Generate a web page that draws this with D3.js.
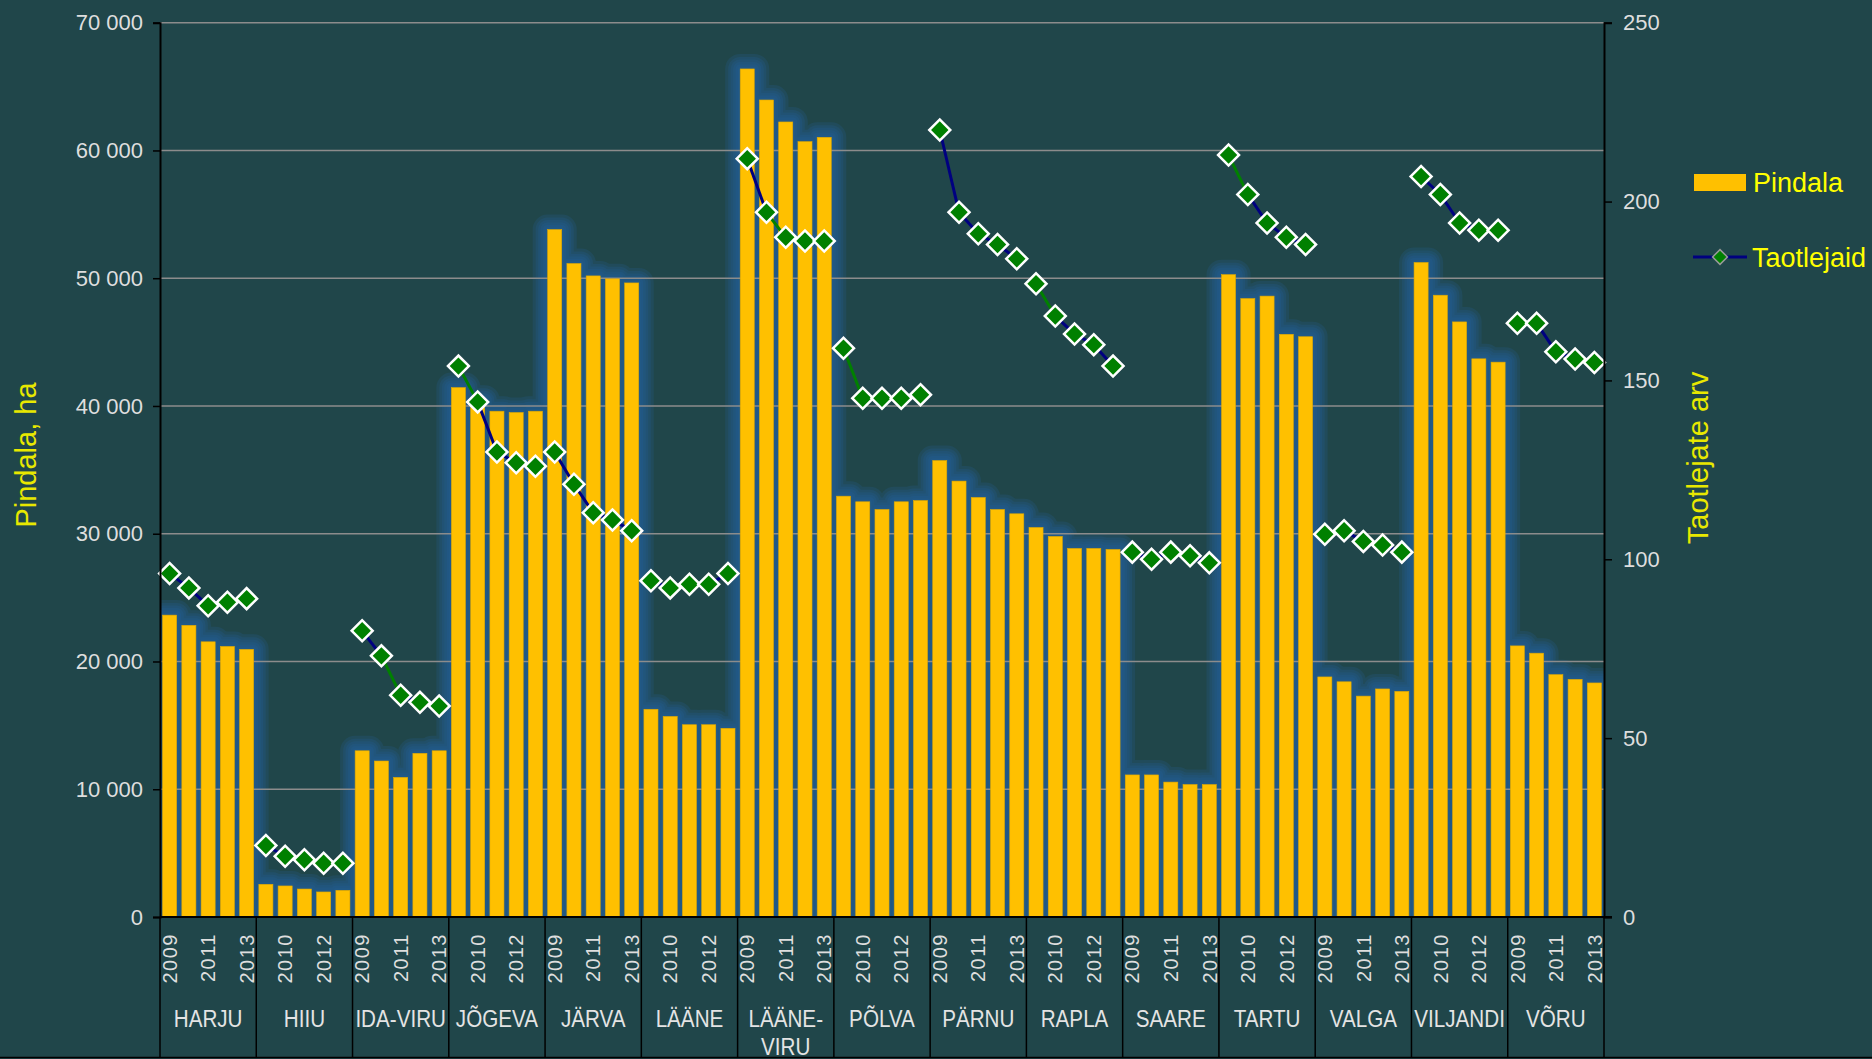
<!DOCTYPE html>
<meta charset="utf-8">
<style>
  body { margin: 0; background: #20464a; }
  svg { font-family: "Liberation Sans", Arial, sans-serif; display: block; }
  .tick-lbl { fill: #dedede; font-size: 22px; }
  .yr { fill: #dedede; font-size: 20px; letter-spacing: 1.5px; }
  .grp { fill: #e4e4e4; font-size: 24px; }
  .ttl { fill: #e8e800; font-size: 29px; }
  .leg { fill: #ffff00; font-size: 27px; }
</style>
<body>
<svg id="chart" width="1872" height="1059"></svg>
<script src="https://d3js.org/d3.v7.min.js"></script>
<script>

// ---------------------------------------------------------------
//                              DATA
// ---------------------------------------------------------------
var counties = ["HARJU", "HIIU", "IDA-VIRU", "JÕGEVA", "JÄRVA", "LÄÄNE",
                "LÄÄNE-VIRU", "PÕLVA", "PÄRNU", "RAPLA", "SAARE", "TARTU",
                "VALGA", "VILJANDI", "VÕRU"];
var years = [2009, 2010, 2011, 2012, 2013];

// Pindala, ha (one row per county, 2009..2013)
var pindala = [
  [23630, 22830, 21540, 21180, 20950],
  [ 2560,  2430,  2190,  1960,  2090],
  [13010, 12210, 10930, 12810, 13010],
  [41440, 40450, 39590, 39490, 39590],
  [53810, 51150, 50180, 49950, 49630],
  [16260, 15700, 15050, 15050, 14770],
  [66380, 63950, 62230, 60690, 61030],
  [32940, 32500, 31900, 32500, 32600],
  [35730, 34120, 32840, 31900, 31560],
  [30490, 29790, 28850, 28850, 28770],
  [11120, 11120, 10560, 10370, 10370],
  [50280, 48410, 48600, 45610, 45420],
  [18790, 18410, 17290, 17850, 17660],
  [51230, 48670, 46580, 43690, 43430],
  [21220, 20650, 18970, 18600, 18320]
];

// Taotlejate arv
var taotlejad = [
  [ 96,  92,  87,  88,  89],
  [ 20,  17,  16,  15,  15],
  [ 80,  73,  62,  60,  59],
  [154, 144, 130, 127, 126],
  [130, 121, 113, 111, 108],
  [ 94,  92,  93,  93,  96],
  [212, 197, 190, 189, 189],
  [159, 145, 145, 145, 146],
  [220, 197, 191, 188, 184],
  [177, 168, 163, 160, 154],
  [102, 100, 102, 101,  99],
  [213, 202, 194, 190, 188],
  [107, 108, 105, 104, 102],
  [207, 202, 194, 192, 192],
  [166, 166, 158, 156, 155]
];

var leftTicks  = [0, 10000, 20000, 30000, 40000, 50000, 60000, 70000];
var rightTicks = [0, 50, 100, 150, 200, 250];

// line segments that show up green instead of navy ("county:segment")
var greenSegs = ["IDA-VIRU:1", "JÕGEVA:0", "LÄÄNE-VIRU:1", "PÕLVA:0", "RAPLA:0", "TARTU:0"];

// ---------------------------------------------------------------
//                              SETUP
// ---------------------------------------------------------------
var svg = d3.select("#chart");
var x0 = 160, x1 = 1604, yTop = 22.7, yBot = 917;

// flatten into rows
var rows = [];
counties.forEach(function(c, i) {
  years.forEach(function(y, j) {
    rows.push({ county: c, year: y, key: c + "-" + y, area: pindala[i][j], n: taotlejad[i][j] });
  });
});

var xBand = d3.scaleBand().domain(rows.map(function(d) { return d.key; }))
    .range([x0, x1]).paddingInner(0.27).paddingOuter(0.135);
var xGrp = d3.scaleBand().domain(counties).range([x0, x1]).padding(0);
var yL = d3.scaleLinear().domain([0, 70000]).range([yBot, yTop]);
var yR = d3.scaleLinear().domain([0, 250]).range([yBot, yTop]);

var fmt = function(v) { return d3.format(",")(v).replace(/,/g, " "); };

// plot clip for the glow
svg.append("defs").append("clipPath").attr("id", "plotclip")
  .append("rect").attr("x", x0).attr("y", 0).attr("width", x1 - x0).attr("height", yBot);

// soft blue glow behind the bars: stacked, widening translucent copies
var glow = svg.append("g").attr("clip-path", "url(#plotclip)");
[2, 4.5, 7, 9.5, 12, 15].forEach(function(e) {
  glow.append("g").attr("opacity", 0.2)
    .selectAll("rect").data(rows).enter().append("rect")
      .attr("x", function(d) { return xBand(d.key) - e; })
      .attr("y", function(d) { return yL(d.area) - e; })
      .attr("width", xBand.bandwidth() + 2 * e)
      .attr("height", function(d) { return yBot - yL(d.area) + 2 * e; })
      .attr("rx", e).attr("ry", e)
      .attr("fill", "#2562a0");
});

// gridlines
svg.append("g").selectAll("line").data(leftTicks.slice(1)).enter().append("line")
    .attr("x1", x0).attr("x2", x1)
    .attr("y1", function(d) { return yL(d); }).attr("y2", function(d) { return yL(d); })
    .attr("stroke", "#8c8c8c").attr("stroke-width", 1.5);

// bars
svg.append("g").selectAll("rect").data(rows).enter().append("rect")
    .attr("x", function(d) { return xBand(d.key); })
    .attr("y", function(d) { return yL(d.area); })
    .attr("width", xBand.bandwidth())
    .attr("height", function(d) { return yBot - yL(d.area); })
    .attr("fill", "#ffc000")
    .attr("stroke", "#e0a800").attr("stroke-width", 0.6);

// lines (one per county, segment by segment)
var cx = function(d) { return xBand(d.key) + xBand.bandwidth() / 2; };
var lines = svg.append("g");
counties.forEach(function(c) {
  var pts = rows.filter(function(d) { return d.county === c; });
  for (var k = 0; k < pts.length - 1; k++) {
    lines.append("line")
      .attr("x1", cx(pts[k])).attr("y1", yR(pts[k].n))
      .attr("x2", cx(pts[k + 1])).attr("y2", yR(pts[k + 1].n))
      .attr("stroke", greenSegs.indexOf(c + ":" + k) >= 0 ? "#008000" : "#000080")
      .attr("stroke-width", 3);
  }
});

// diamond markers
var diamond = d3.symbol().type(d3.symbolSquare).size(220);
svg.append("g").selectAll("path").data(rows).enter().append("path")
    .attr("d", diamond)
    .attr("transform", function(d) { return "translate(" + cx(d) + "," + yR(d.n) + ") rotate(45)"; })
    .attr("fill", "#008000").attr("stroke", "#ffffff").attr("stroke-width", 2.5);

// ---------------------------------------------------------------
//                              AXES
// ---------------------------------------------------------------
var axL = svg.append("g").attr("transform", "translate(" + x0 + ",0)")
    .call(d3.axisLeft(yL).tickValues(leftTicks).tickFormat(fmt).tickSize(7).tickPadding(12));
var axR = svg.append("g").attr("transform", "translate(" + x1 + ",0)")
    .call(d3.axisRight(yR).tickValues(rightTicks).tickSize(8).tickPadding(11));
[axL, axR].forEach(function(a) {
  a.select(".domain").attr("stroke", "#000").attr("stroke-width", 2);
  a.selectAll(".tick line").attr("stroke", "#000").attr("stroke-width", 1.5);
  a.selectAll(".tick text").attr("class", "tick-lbl").attr("font-family", null).attr("font-size", null);
});
axL.selectAll(".tick text").attr("x", -17);

// x axis baseline
svg.append("line").attr("x1", x0).attr("x2", x1 + 8).attr("y1", yBot).attr("y2", yBot)
    .attr("stroke", "#000").attr("stroke-width", 2);

// group separators down to the bottom
var seps = counties.map(function(c) { return xGrp(c); }).concat([x1]);
svg.append("g").selectAll("line").data(seps).enter().append("line")
    .attr("x1", function(d) { return d; }).attr("x2", function(d) { return d; })
    .attr("y1", yBot).attr("y2", 1058)
    .attr("stroke", "#000").attr("stroke-width", 1.5);
svg.append("line").attr("x1", 0).attr("x2", 1872).attr("y1", 1057.5).attr("y2", 1057.5)
    .attr("stroke", "#000").attr("stroke-width", 1.5);

// year labels, every other one
svg.append("g").selectAll("text").data(rows.filter(function(d, i) { return i % 2 === 0; }))
  .enter().append("text")
    .attr("class", "yr")
    .attr("transform", function(d) { return "translate(" + cx(d) + ",933) rotate(-90)"; })
    .attr("text-anchor", "end").attr("dy", "0.36em")
    .text(function(d) { return d.year; });

// county labels (narrow type, like the original)
var g = svg.append("g").selectAll("text").data(counties).enter().append("text")
    .attr("class", "grp").attr("text-anchor", "middle")
    .attr("transform", function(c) {
      return "translate(" + (xGrp(c) + xGrp.bandwidth() / 2) + ",1027) scale(0.86,1)";
    });
g.each(function(c) {
  var parts = c === "LÄÄNE-VIRU" ? ["LÄÄNE-", "VIRU"] : [c];
  var t = d3.select(this);
  parts.forEach(function(p, i) {
    t.append("tspan").attr("x", 0).attr("dy", i ? 28 : 0).text(p);
  });
});

// axis titles
svg.append("text").attr("class", "ttl").attr("text-anchor", "middle")
    .attr("transform", "translate(36,455) rotate(-90)").text("Pindala, ha");
svg.append("text").attr("class", "ttl").attr("text-anchor", "middle")
    .attr("transform", "translate(1708,458) rotate(-90)").text("Taotlejate arv");

// legend
svg.append("rect").attr("x", 1694).attr("y", 174).attr("width", 52).attr("height", 17)
    .attr("fill", "#ffc000");
svg.append("text").attr("class", "leg").attr("x", 1753).attr("y", 192).text("Pindala");
svg.append("line").attr("x1", 1693).attr("x2", 1747).attr("y1", 257).attr("y2", 257)
    .attr("stroke", "#000080").attr("stroke-width", 3);
svg.append("path").attr("d", d3.symbol().type(d3.symbolSquare).size(110))
    .attr("transform", "translate(1720,257) rotate(45)")
    .attr("fill", "#008000").attr("stroke", "#9a9a9a").attr("stroke-width", 1.5);
svg.append("text").attr("class", "leg").attr("x", 1752).attr("y", 267).text("Taotlejaid");

</script>
</body>
